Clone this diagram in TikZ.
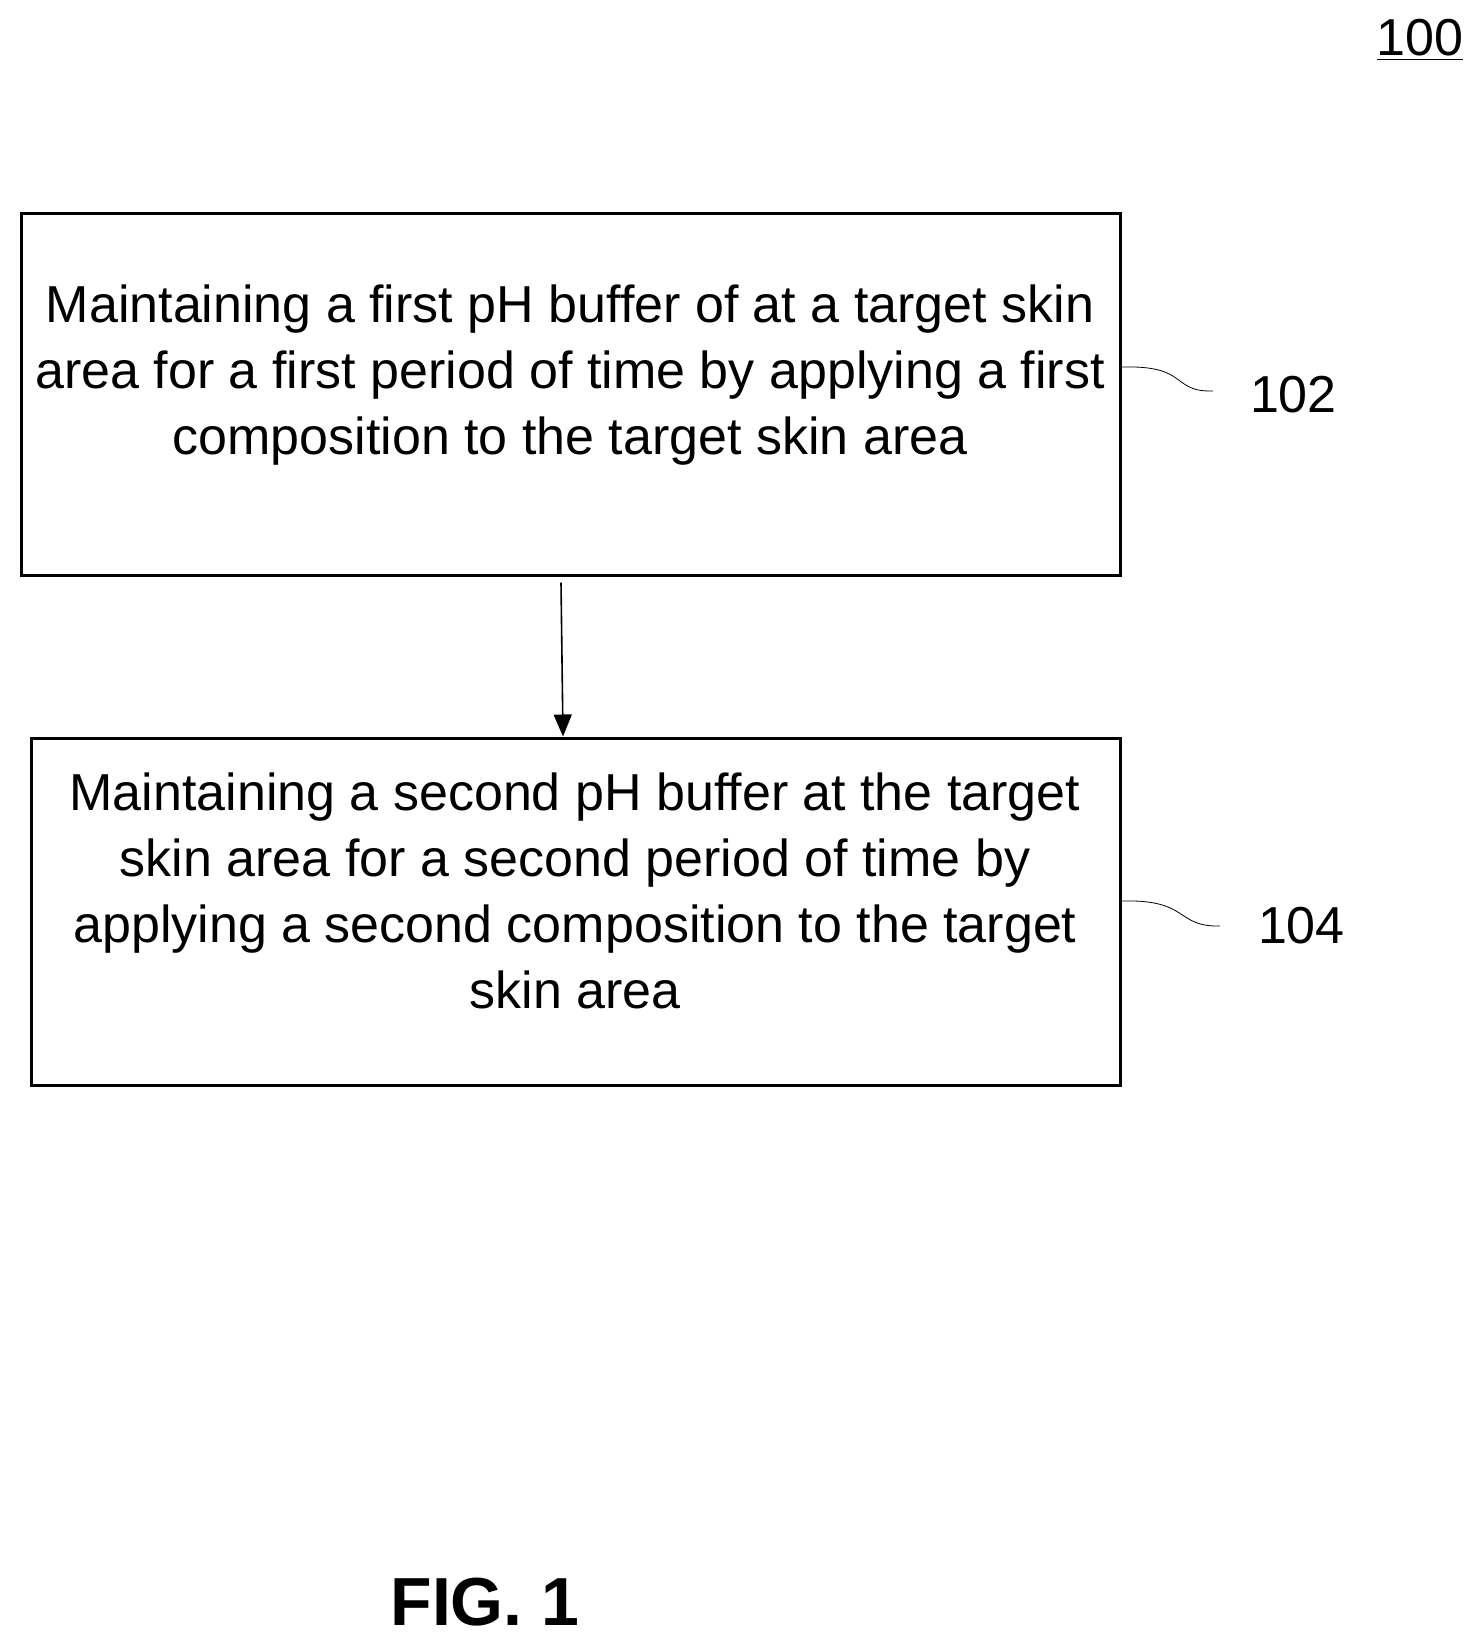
\documentclass[tikz,border=0pt]{standalone}
\usepackage{fontspec}
\setmainfont{Liberation Sans}
\usetikzlibrary{arrows.meta}
\begin{document}
\begin{tikzpicture}[x=0.5pt,y=-0.5pt,
  stepbox/.style={draw=black,line width=1.5pt,inner sep=0pt},
  steptext/.style={font=\fontsize{26}{33}\selectfont,align=center,inner sep=0pt},
  reflabel/.style={font=\fontsize{26}{33}\selectfont,anchor=west},
  flow/.style={thick,-{Triangle[length=11pt,width=9pt]}}]
\useasboundingbox (0,0) rectangle (1480,1645);
\node[stepbox,minimum width=549.5pt,minimum height=181pt] (b102) at (570.5,394) {};
\node[stepbox,minimum width=544.5pt,minimum height=173.5pt] (b104) at (575.5,911.5) {};
\node[steptext] (s102) at (570,375) {Maintaining a first pH buffer of at a target skin\\area for a first period of time by applying a first\\composition to the target skin area};
\node[steptext] (s104) at (575,891) {Maintaining a second pH buffer at the target\\skin area for a second period of time by\\applying a second composition to the target\\skin area};
\draw[flow] ([yshift=-3pt]b102.south -| 561,0) -- (b104.north -| 563,0);
% reference numerals
\node[reflabel] (n102) at (1243,395) {102};
\node[reflabel] (n104) at (1251,926) {104};
\draw[thin] (b102.east |- 0,367) .. controls (1190,365) and (1170,392) .. (1213,391);
\draw[thin] (b104.east |- 0,901) .. controls (1190,899) and (1175,927) .. (1220,926);
\node[font=\fontsize{26}{33}\selectfont] (n100) at (1420,40) {\underline{100}};
\node[font=\fontsize{34}{40}\selectfont\bfseries] (fig) at (485,1602) {FIG. 1};
\end{tikzpicture}
\end{document}
